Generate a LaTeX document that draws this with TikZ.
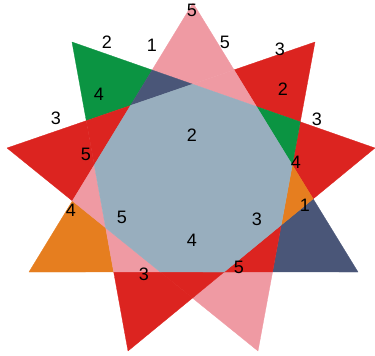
\documentclass[tikz,border=0pt]{standalone}
\usepackage{fontspec}
\setmainfont{Liberation Sans}
\definecolor{cpink}{HTML}{EF9AA3}
\definecolor{cred}{HTML}{DC2420}
\definecolor{cgreen}{HTML}{0B9442}
\definecolor{cdblue}{HTML}{4A5678}
\definecolor{corange}{HTML}{E67E1F}
\definecolor{cgrey}{HTML}{98AEBE}
\begin{document}
\begin{tikzpicture}[x=1pt,y=-1pt,
  pk/.style={fill=cpink,draw=cpink,line width=0.3pt,line join=round},
  rd/.style={fill=cred,draw=cred,line width=0.3pt,line join=round},
  gr/.style={fill=cgreen,draw=cgreen,line width=0.3pt,line join=round},
  db/.style={fill=cdblue,draw=cdblue,line width=0.3pt,line join=round},
  og/.style={fill=corange,draw=corange,line width=0.3pt,line join=round},
  bg/.style={fill=cgrey,draw=cgrey,line width=0.3pt,line join=round},
  lab/.style={font=\fontsize{18}{18}\selectfont,inner sep=0pt,text=black}]
\useasboundingbox (0,0) rectangle (375,356);
% star vertices
\coordinate (P0) at (193,3);
\coordinate (P1) at (315,42);
\coordinate (P2) at (375,148);
\coordinate (P3) at (358,272);
\coordinate (P4) at (258,351);
\coordinate (P5) at (128,351);
\coordinate (P6) at (29,272);
\coordinate (P7) at (7,148);
\coordinate (P8) at (72,42);
% intersections
\coordinate (A) at (intersection of P6--P0 and P8--P2);
\coordinate (B) at (intersection of P7--P1 and P8--P2);
\coordinate (X) at (intersection of P7--P1 and P0--P3);
\coordinate (Y) at (intersection of P0--P3 and P8--P2);
\coordinate (Z) at (intersection of P1--P4 and P8--P2);
\coordinate (C) at (intersection of P0--P3 and P1--P4);
\coordinate (D) at (intersection of P0--P3 and P2--P5);
\coordinate (E) at (intersection of P1--P4 and P2--P5);
\coordinate (F) at (intersection of P1--P4 and P3--P6);
\coordinate (G) at (intersection of P2--P5 and P3--P6);
\coordinate (H) at (intersection of P2--P5 and P4--P7);
\coordinate (I) at (intersection of P4--P7 and P3--P6);
\coordinate (J) at (intersection of P5--P8 and P3--P6);
\coordinate (K) at (intersection of P5--P8 and P4--P7);
\coordinate (M) at (intersection of P6--P0 and P4--P7);
\coordinate (N) at (intersection of P6--P0 and P5--P8);
\coordinate (Q) at (intersection of P7--P1 and P5--P8);
\coordinate (R) at (intersection of P7--P1 and P6--P0);
% tips
\filldraw[pk] (P0) -- (X) -- (B) -- (A) -- cycle;
\filldraw[rd] (P1) -- (Z) -- (Y) -- (X) -- cycle;
\filldraw[rd] (P2) -- (D) -- (C) -- (Z) -- cycle;
\filldraw[db] (P3) -- (F) -- (E) -- (D) -- cycle;
\filldraw[pk] (P4) -- (H) -- (G) -- (F) -- cycle;
\filldraw[rd] (P5) -- (J) -- (I) -- (H) -- cycle;
\filldraw[og] (P6) -- (M) -- (K) -- (J) -- cycle;
\filldraw[rd] (P7) -- (Q) -- (N) -- (M) -- cycle;
\filldraw[gr] (P8) -- (A) -- (R) -- (Q) -- cycle;
% small triangles
\filldraw[pk] (X) -- (B) -- (Y) -- cycle;
\filldraw[gr] (Y) -- (Z) -- (C) -- cycle;
\filldraw[og] (C) -- (D) -- (E) -- cycle;
\filldraw[rd] (E) -- (F) -- (G) -- cycle;
\filldraw[rd] (G) -- (H) -- (I) -- cycle;
\filldraw[pk] (I) -- (J) -- (K) -- cycle;
\filldraw[pk] (K) -- (M) -- (N) -- cycle;
\filldraw[rd] (N) -- (Q) -- (R) -- cycle;
\filldraw[db] (R) -- (A) -- (B) -- cycle;
% centre
\filldraw[bg] (R) -- (B) -- (Y) -- (C) -- (E) -- (G) -- (I) -- (K) -- (N) -- cycle;
% labels
\node[lab] (l1) at (192,10) {5};
\node[lab] (l2) at (107,42) {2};
\node[lab] (l3) at (152,45) {1};
\node[lab] (l4) at (225,42) {5};
\node[lab] (l5) at (280,49) {3};
\node[lab] (l6) at (99,94) {4};
\node[lab] (l7) at (283,89) {2};
\node[lab] (l8) at (56,118) {3};
\node[lab] (l9) at (317,119) {3};
\node[lab] (l10) at (192,135) {2};
\node[lab] (l11) at (86,154) {5};
\node[lab] (l12) at (296,162) {4};
\node[lab] (l13) at (71,210) {4};
\node[lab] (l14) at (305,205) {1};
\node[lab] (l15) at (122,217) {5};
\node[lab] (l16) at (257,219) {3};
\node[lab] (l17) at (192,240) {4};
\node[lab] (l18) at (144,274) {3};
\node[lab] (l19) at (239,267) {5};
\end{tikzpicture}
\end{document}
